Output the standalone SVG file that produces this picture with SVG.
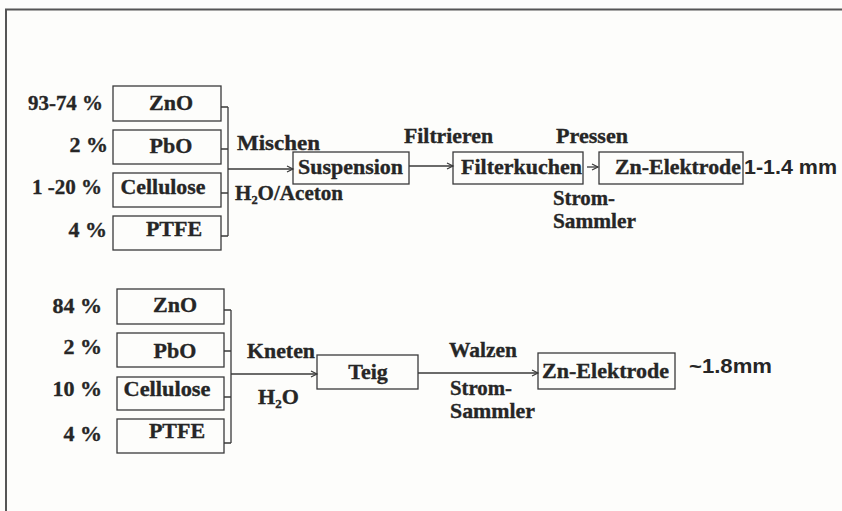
<svg xmlns="http://www.w3.org/2000/svg" width="842" height="511" viewBox="0 0 842 511">
<style>
.t{font-family:"Liberation Serif","Times New Roman",serif;font-weight:bold;font-size:22px;fill:#262626;stroke:#262626;stroke-width:0.35}
.s{font-family:"Liberation Sans",Arial,sans-serif;font-weight:bold;font-size:20px;fill:#262626}
.b{fill:none;stroke:#3a3a3a;stroke-width:1.3}
.c{fill:none;stroke:#3a3a3a;stroke-width:1.3}
.m{text-anchor:middle}
.e{text-anchor:end}
</style>
<defs>
<marker id="ah" markerWidth="10" markerHeight="10" refX="7" refY="4" orient="auto" markerUnits="userSpaceOnUse">
<path d="M1,1 L7,4 L1,7" fill="none" stroke="#3a3a3a" stroke-width="1.2"/>
</marker>
</defs>
<rect width="842" height="511" fill="#fdfdfb"/>
<path d="M6,511 V9.5 H842" fill="none" stroke="#555" stroke-width="2"/>

<!-- top row -->
<g id="pct1">
<text class="t e" x="103" y="110" textLength="75" lengthAdjust="spacingAndGlyphs">93-74 %</text>
<text class="t e" x="108" y="152">2 %</text>
<text class="t e" x="102" y="194" textLength="70" lengthAdjust="spacingAndGlyphs">1 -20 %</text>
<text class="t e" x="107" y="237">4 %</text>
</g>
<g id="zno1"><rect class="b" x="113" y="86" width="108" height="35"/><text class="t m" x="171" y="110">ZnO</text></g>
<g id="pbo1"><rect class="b" x="113" y="130" width="108" height="34"/><text class="t m" x="171" y="153">PbO</text></g>
<g id="cel1"><rect class="b" x="113" y="173" width="108" height="34"/><text class="t m" x="163" y="194" textLength="85" lengthAdjust="spacingAndGlyphs">Cellulose</text></g>
<g id="ptfe1"><rect class="b" x="113" y="216" width="108" height="34"/><text class="t m" x="174" y="236">PTFE</text></g>
<g id="susp"><rect class="b" x="293" y="152" width="116" height="32"/><text class="t" x="298" y="174" textLength="105" lengthAdjust="spacingAndGlyphs">Suspension</text></g>
<g id="filt"><rect class="b" x="453" y="152" width="130" height="32"/><text class="t" x="461" y="174" textLength="121" lengthAdjust="spacingAndGlyphs">Filterkuchen</text></g>
<g id="zne1"><rect class="b" x="599" y="152" width="144" height="32"/><text class="t" x="615" y="174" textLength="126" lengthAdjust="spacingAndGlyphs">Zn-Elektrode</text></g>
<text class="s" x="744" y="174" textLength="93" lengthAdjust="spacingAndGlyphs">1-1.4 mm</text>
<text class="t" x="237" y="150" textLength="83" lengthAdjust="spacingAndGlyphs">Mischen</text>
<text class="t" x="235" y="200" textLength="108" lengthAdjust="spacingAndGlyphs">H<tspan font-size="13" dy="4">2</tspan><tspan dy="-4">O/Aceton</tspan></text>
<text class="t" x="404" y="143" textLength="89" lengthAdjust="spacingAndGlyphs">Filtrieren</text>
<text class="t" x="556" y="143" textLength="72" lengthAdjust="spacingAndGlyphs">Pressen</text>
<text class="t" x="553" y="205" textLength="62" lengthAdjust="spacingAndGlyphs">Strom-</text>
<text class="t" x="553" y="228" textLength="83" lengthAdjust="spacingAndGlyphs">Sammler</text>

<!-- bottom row -->
<g id="pct2">
<text class="t e" x="102" y="313">84 %</text>
<text class="t e" x="102" y="354">2 %</text>
<text class="t e" x="102" y="396">10 %</text>
<text class="t e" x="102" y="441">4 %</text>
</g>
<g id="zno2"><rect class="b" x="117" y="289" width="107" height="35"/><text class="t m" x="175" y="312">ZnO</text></g>
<g id="pbo2"><rect class="b" x="117" y="333" width="107" height="34"/><text class="t m" x="175" y="358">PbO</text></g>
<g id="cel2"><rect class="b" x="117" y="377" width="107" height="33"/><text class="t m" x="167" y="396" textLength="87" lengthAdjust="spacingAndGlyphs">Cellulose</text></g>
<g id="ptfe2"><rect class="b" x="117" y="419" width="107" height="34"/><text class="t m" x="177" y="438">PTFE</text></g>
<g id="teig"><rect class="b" x="317" y="355" width="101" height="34"/><text class="t m" x="368" y="379">Teig</text></g>
<g id="zne2"><rect class="b" x="538" y="353" width="137" height="36"/><text class="t" x="542" y="378" textLength="127" lengthAdjust="spacingAndGlyphs">Zn-Elektrode</text></g>
<text class="s" x="689" y="373" font-size="21" textLength="83" lengthAdjust="spacingAndGlyphs">~1.8mm</text>
<text class="t" x="247" y="358" textLength="68" lengthAdjust="spacingAndGlyphs">Kneten</text>
<text class="t" x="258" y="404">H<tspan font-size="13" dy="4">2</tspan><tspan dy="-4">O</tspan></text>
<text class="t" x="449" y="357" textLength="68" lengthAdjust="spacingAndGlyphs">Walzen</text>
<text class="t" x="450" y="395" textLength="62" lengthAdjust="spacingAndGlyphs">Strom-</text>
<text class="t" x="450" y="418" textLength="85" lengthAdjust="spacingAndGlyphs">Sammler</text>

<g id="connectors">
<path class="c" d="M221,107 H228 M221,149 H228 M221,193 H228 M221,236 H228 M228,107 V236"/>
<path class="c" d="M228,169 H293" marker-end="url(#ah)"/>
<path class="c" d="M409,166 H453" marker-end="url(#ah)"/>
<path class="c" d="M587,167 H598" marker-end="url(#ah)"/>
<path class="c" d="M224,310 H231 M224,351 H231 M224,397 H231 M224,443 H231 M231,310 V443"/>
<path class="c" d="M231,374 H317" marker-end="url(#ah)"/>
<path class="c" d="M418,373 H538" marker-end="url(#ah)"/>
</g>
</svg>
